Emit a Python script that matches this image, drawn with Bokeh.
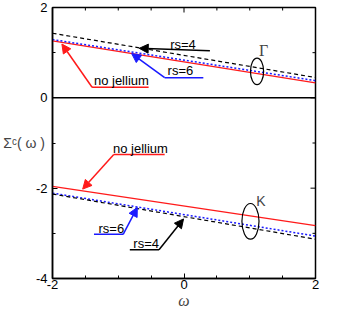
import math
from bokeh.plotting import figure
from bokeh.models import Range1d, FixedTicker, Span, Arrow, NormalHead, Label
from bokeh.embed import file_html
from bokeh.resources import INLINE

# ---- data ----
omega = [-2, 2]
gamma_no_jellium = [1.26, 0.33]
gamma_rs6 = [1.29, 0.38]
gamma_rs4 = [1.43, 0.45]
k_no_jellium = [-1.96, -2.83]
k_rs6 = [-2.11, -3.06]
k_rs4 = [-2.13, -3.13]

x_ticks = [-2, 0, 2]
x_minor = [-1.5, -1, -0.5, 0.5, 1, 1.5]
y_ticks = [-4, -2, 0, 2]
y_minor = [-3, -1, 1]
x_tick_labels = {-2: "-2", 0: "0", 2: "2"}
y_tick_labels = {-4: "-4", -2: "-2", 0: "0", 2: "2"}

RED = "#ff1a1a"
BLUE = "#1a1aff"
BLACK = "black"
FONT = "Liberation Sans"

p = figure(width=322, height=311, min_border_left=10, min_border_right=7,
           min_border_top=7, min_border_bottom=10,
           x_range=Range1d(-2, 2), y_range=Range1d(-4, 2),
           output_backend="svg", toolbar_location=None)
p.grid.visible = False
p.outline_line_color = "black"
p.outline_line_width = 1.5

p.xaxis.ticker = FixedTicker(ticks=x_ticks, minor_ticks=x_minor)
p.yaxis.ticker = FixedTicker(ticks=y_ticks, minor_ticks=y_minor)
p.xaxis.major_label_overrides = x_tick_labels
p.yaxis.major_label_overrides = y_tick_labels
for ax in (p.xaxis[0], p.yaxis[0]):
    ax.axis_line_width = 1.5
    ax.major_tick_in = 5
    ax.major_tick_out = 0
    ax.minor_tick_in = 3
    ax.minor_tick_out = 0
    ax.major_label_text_font = FONT
    ax.major_label_text_font_size = "13px"
    ax.major_label_text_color = "black"
p.xaxis.major_label_standoff = 1
p.yaxis.major_label_standoff = 5
p.xaxis.axis_label = "ω"
p.xaxis.axis_label_text_font = "Liberation Serif"
p.xaxis.axis_label_text_font_style = "italic"
p.xaxis.axis_label_text_font_size = "16px"
p.xaxis.axis_label_standoff = 0
p.yaxis.axis_label = "Σᶜ( ω )"
p.yaxis.axis_label_orientation = "horizontal"
p.yaxis.axis_label_text_font = FONT
p.yaxis.axis_label_text_font_style = "normal"
p.yaxis.axis_label_text_font_size = "14px"
p.yaxis.axis_label_standoff = -12

# mirror ticks on the top and right edges (clipped half-dashes)
p.scatter(x=x_ticks, y=[2] * len(x_ticks), marker="dash", size=10, angle=math.pi / 2,
          line_color="black", line_width=1)
p.scatter(x=x_minor, y=[2] * len(x_minor), marker="dash", size=6, angle=math.pi / 2,
          line_color="black", line_width=1)
p.scatter(x=[2] * len(y_ticks), y=y_ticks, marker="dash", size=10,
          line_color="black", line_width=1)
p.scatter(x=[2] * len(y_minor), y=y_minor, marker="dash", size=6,
          line_color="black", line_width=1)

p.add_layout(Span(location=0, dimension="width", line_color="black", line_width=1.5))

# ---- curves ----
for ys in (gamma_no_jellium, k_no_jellium):
    p.line(omega, ys, line_color=RED, line_width=1.3)
for ys in (gamma_rs6, k_rs6):
    p.line(omega, ys, line_color=BLUE, line_width=1.5, line_dash="2 2")
for ys in (gamma_rs4, k_rs4):
    p.line(omega, ys, line_color=BLACK, line_width=1.2, line_dash="4 3")

# ---- callouts: (text, colour, text pos, polyline, arrow tip) ----
callouts = [
    ("rs=4", BLACK, (-0.21, 1.17), [(0.394, 1.043)], (-0.681, 1.096)),
    ("rs=6", BLUE, (-0.25, 0.606), [(0.294, 0.447), (-0.294, 0.447)], (-0.796, 0.979)),
    ("no jellium", RED, (-1.37, 0.383), [(-0.538, 0.234), (-1.398, 0.234)], (-1.857, 1.191)),
    ("no jellium", RED, (-1.08, -1.117), [(-0.294, -1.255), (-1.068, -1.255)], (-1.541, -2.021)),
    ("rs=6", BLUE, (-1.30, -2.894), [(-1.369, -3.021), (-0.925, -3.021)], (-0.710, -2.426)),
    ("rs=4", BLACK, (-0.77, -3.234), [(-0.824, -3.362), (-0.380, -3.362)], (-0.007, -2.681)),
]
for text, col, (tx, ty), pts, tip in callouts:
    p.add_layout(Label(x=tx, y=ty, text=text, text_font=FONT, text_font_size="13px",
                       text_color="black", text_baseline="middle", text_align="left"))
    if len(pts) > 1:
        p.line([q[0] for q in pts], [q[1] for q in pts], line_color=col, line_width=1.5)
    sx, sy = pts[-1]
    p.add_layout(Arrow(x_start=sx, y_start=sy, x_end=tip[0], y_end=tip[1],
                       line_color=col, line_width=1.5,
                       end=NormalHead(size=9, fill_color=col, line_color=col, line_width=1)))

# point labels and rings
p.add_layout(Label(x=1.21, y=1.043, text="Γ", text_font="Liberation Serif", text_font_size="16px",
                   text_baseline="middle", text_align="center"))
p.add_layout(Label(x=1.17, y=-2.287, text="K", text_font=FONT, text_font_size="14px",
                   text_baseline="middle", text_align="center"))
p.ellipse(x=[1.111], y=[0.585], width=[0.2], height=[0.585], fill_color=None,
          line_color="black", line_width=1.2)
p.ellipse(x=[1.011], y=[-2.734], width=[0.26], height=[0.79], fill_color=None,
          line_color="black", line_width=1.2)

open("out.html", "w").write(file_html(p, INLINE))
